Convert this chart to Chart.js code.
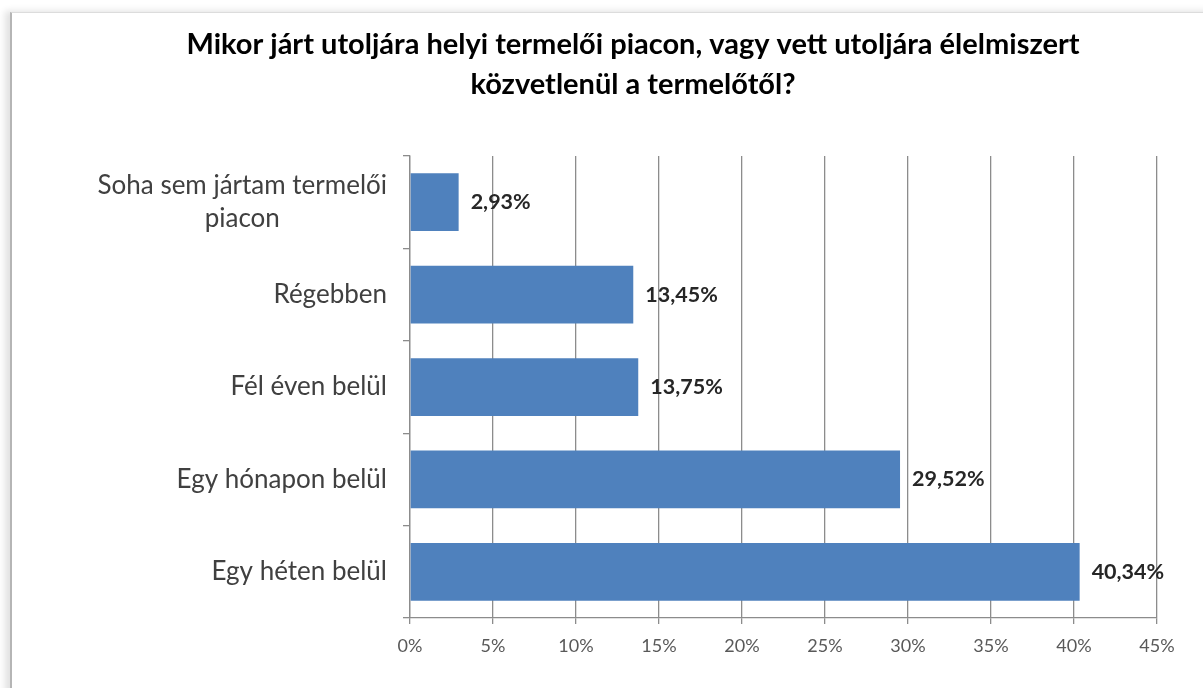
<!DOCTYPE html>
<html>
<head>
<meta charset="utf-8">
<script src="https://cdn.jsdelivr.net/npm/chart.js@4.4.0/dist/chart.umd.min.js"></script>
<style>
  html, body { margin: 0; padding: 0; background: #fff; width: 1203px; height: 688px; overflow: hidden; }
  #frame { position: absolute; left: 10px; top: 12px; width: 1400px; height: 900px;
           border-left: 2px solid #b5b5b5; border-top: 1px solid #dcdcdc;
           box-shadow: -5px -1px 7px rgba(0,0,0,0.12); background: #fff; }
  #wrap { position: absolute; left: 0; top: 0; width: 1203px; height: 688px; }
</style>
</head>
<body>
<div id="frame"></div>
<div id="wrap"><canvas id="c" width="1203" height="688"></canvas></div>
<script>
const titleLines = ["Mikor járt utoljára helyi termelői piacon, vagy vett utoljára élelmiszert", "közvetlenül a termelőtől?"];
const categories = [["Soha sem jártam termelői", "piacon"], ["Régebben"], ["Fél éven belül"], ["Egy hónapon belül"], ["Egy héten belül"]];
const values = [2.93, 13.45, 13.75, 29.52, 40.34];
const xMax = 45;
const xStep = 5;

const FONT = "Lato, 'Open Sans', sans-serif";

const yLabelPlugin = {
  id: 'yLabels',
  afterDraw(chart) {
    const ys = chart.scales.y;
    const ctx = chart.ctx;
    ctx.save();
    ctx.font = "26px " + FONT;
    ctx.fillStyle = '#404040';
    ctx.textAlign = 'center';
    ctx.textBaseline = 'middle';
    const right = ys.right - 7 - 16;
    const lineH = 33;
    categories.forEach((lines, i) => {
      const y = ys.getPixelForTick(i);
      const w = Math.max(...lines.map(l => ctx.measureText(l).width));
      lines.forEach((l, j) => {
        ctx.fillText(l, right - w / 2, y + (j - (lines.length - 1) / 2) * lineH);
      });
    });
    ctx.restore();
  }
};

const valueLabelPlugin = {
  id: 'valueLabels',
  afterDatasetsDraw(chart) {
    const ctx = chart.ctx;
    const meta = chart.getDatasetMeta(0);
    ctx.save();
    ctx.font = "bold 21.5px " + FONT;
    ctx.fillStyle = '#262626';
    ctx.textAlign = 'left';
    ctx.textBaseline = 'middle';
    meta.data.forEach((bar, i) => {
      const txt = values[i].toFixed(2).replace('.', ',') + '%';
      ctx.fillText(txt, bar.x + 12, bar.y);
    });
    ctx.restore();
  }
};

new Chart(document.getElementById('c'), {
  type: 'bar',
  data: {
    labels: categories,
    datasets: [{
      data: values,
      backgroundColor: '#4f81bd',
      borderWidth: 0,
      barPercentage: 0.625,
      categoryPercentage: 1.0
    }]
  },
  options: {
    indexAxis: 'y',
    responsive: false,
    animation: false,
    events: [],
    layout: { padding: { left: 109, right: 46, top: 0, bottom: 0 } },
    plugins: {
      legend: { display: false },
      tooltip: { enabled: false },
      title: {
        display: true,
        text: titleLines,
        color: '#000',
        font: { family: FONT, size: 29, weight: 'bold', lineHeight: 1.38 },
        padding: { top: 25, bottom: 51 }
      }
    },
    scales: {
      x: {
        min: 0, max: xMax,
        ticks: {
          stepSize: xStep,
          color: '#595959',
          font: { family: FONT, size: 18 },
          padding: 11,
          callback: v => v + '%'
        },
        grid: { color: '#8c8c8c', lineWidth: 1.3, tickLength: 6, drawTicks: true },
        border: { display: true, color: '#8c8c8c', width: 1.3 },
        afterFit(scale) { scale.height = 70; }
      },
      y: {
        ticks: { display: false },
        grid: { display: true, drawOnChartArea: false, offset: true, color: '#8c8c8c', lineWidth: 1.3, tickLength: 7 },
        border: { display: true, color: '#8c8c8c', width: 1.3 },
        afterFit(scale) { scale.width = 301; }
      }
    }
  },
  plugins: [yLabelPlugin, valueLabelPlugin]
});
</script>
</body>
</html>
